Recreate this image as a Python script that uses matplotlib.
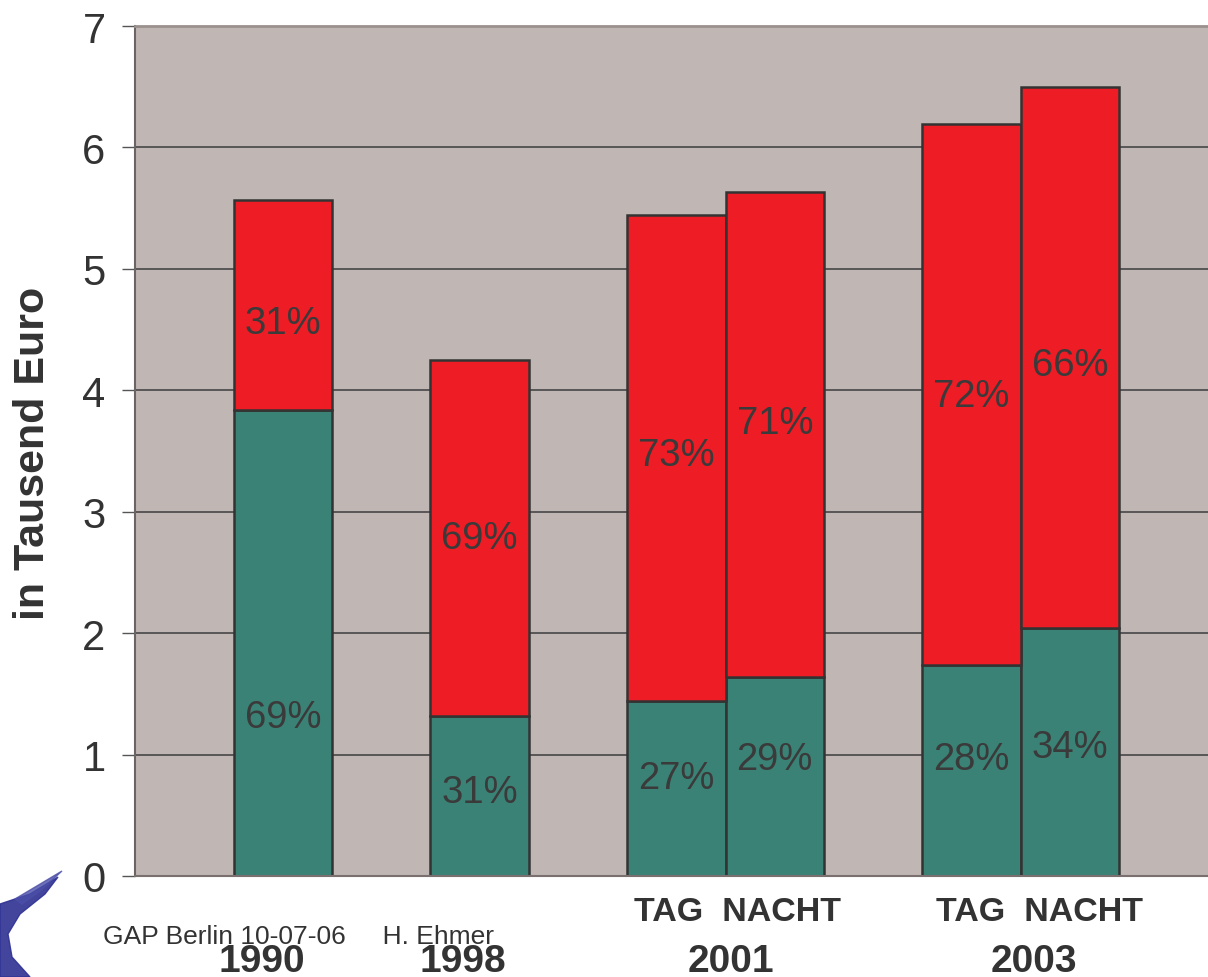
import numpy as np
import matplotlib.pyplot as plt
from matplotlib.patches import Polygon

plt.rcParams['font.family'] = ['Liberation Sans', 'DejaVu Sans']

# data
bar_pos = [1.5, 3.5, 5.5, 6.5, 8.5, 9.5]
green_vals = [3.84, 1.32, 1.44, 1.64, 1.74, 2.04]
total_vals = [5.57, 4.25, 5.44, 5.63, 6.19, 6.50]
red_pct = ['31%', '69%', '73%', '71%', '72%', '66%']
green_pct = ['69%', '31%', '27%', '29%', '28%', '34%']
red_lab_y = [4.55, 2.78, 3.47, 3.73, 3.95, 4.21]
green_lab_y = [1.31, 0.69, 0.81, 0.96, 0.96, 1.06]
years = ['1990', '1998', '2001', '2003']
year_x = [1.29, 3.33, 6.05, 9.13]
tagnacht_x = [6.12, 9.19]

green = np.array(green_vals)
red = np.array(total_vals) - green

W, H = 1208, 978
fig = plt.figure(figsize=(W / 100, H / 100), dpi=100)
ax = fig.add_axes([135.4 / W, 101 / H, 1082 / W, 850 / H])
ax.set_xlim(0, 11)
ax.set_ylim(0, 7)
ax.set_facecolor('#C0B7B4')
ax.yaxis.grid(True, color='#3c3c3c', lw=1.1)
ax.set_axisbelow(True)

ax.bar(bar_pos, green, width=1, color='#3A8276', edgecolor='#333333', lw=1.8)
ax.bar(bar_pos, red, width=1, bottom=green, color='#EE1C25', edgecolor='#333333', lw=1.8)

for x, t, y in zip(bar_pos, red_pct, red_lab_y):
    ax.text(x, y, t, ha='center', va='center', fontsize=27.5, color='#3a3a3a')
for x, t, y in zip(bar_pos, green_pct, green_lab_y):
    ax.text(x, y, t, ha='center', va='center', fontsize=27.5, color='#3a3a3a')

ax.set_xticks([])
ax.set_yticks(range(8))
ax.tick_params(axis='y', length=9.5, width=1, color='#555555', labelsize=30,
               labelcolor='#333333', pad=12)
ax.spines['right'].set_visible(False)
ax.spines['left'].set_color('#6b6464')
ax.spines['left'].set_linewidth(1.5)
ax.spines['top'].set_color('#9a908d')
ax.spines['top'].set_linewidth(2)
ax.spines['bottom'].set_color('#7a7070')
ax.spines['bottom'].set_linewidth(1.5)

trans = ax.get_xaxis_transform()
for x, y in zip(year_x, years):
    ax.text(x, -95 / 850, y, transform=trans, ha='center', va='baseline',
            fontsize=28, fontweight='bold', color='#333333', clip_on=False)
for x in tagnacht_x:
    ax.text(x, -36 / 850, 'TAG  NACHT', transform=trans, ha='center', va='center',
            fontsize=24.5, fontweight='bold', color='#333333', clip_on=False)

fig.text(33 / W, 1 - 453 / H, 'in Tausend Euro', rotation=90, ha='center', va='center',
         fontsize=31, fontweight='bold', color='#333333')
fig.text(103 / W, 1 - 937 / H, 'GAP Berlin 10-07-06     H. Ehmer', ha='left', va='center',
         fontsize=19, color='#333333')

# rough logo swoosh bottom left
logo = [(0, 905), (30, 895), (58, 878), (45, 895), (20, 915), (8, 935), (12, 958),
        (30, 978), (0, 978)]
fig.patches.append(Polygon([(x / W, 1 - y / H) for x, y in logo], closed=True,
                           transform=fig.transFigure, color='#2E3192', alpha=0.9))
wing = [(15, 900), (62, 872), (40, 892), (22, 905)]
fig.patches.append(Polygon([(x / W, 1 - y / H) for x, y in wing], closed=True,
                           transform=fig.transFigure, color='#4B4FA8', alpha=0.8))

fig.savefig('out.png', dpi=100)
